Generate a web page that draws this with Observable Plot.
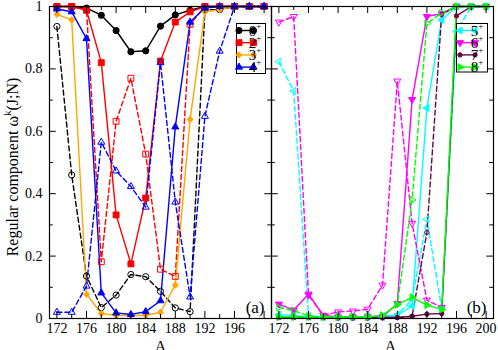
<!DOCTYPE html>
<html><head><meta charset="utf-8">
<script src="https://cdn.jsdelivr.net/npm/d3@7"></script>
<script src="https://cdn.jsdelivr.net/npm/@observablehq/plot@0.6"></script>
<style>
body{margin:0;background:#fff;}
#chart{width:498px;height:350px;}
#chart svg text{font-family:"Liberation Serif","Times New Roman",Times,"DejaVu Serif",serif;}
</style></head><body><div id="chart"></div>
<script>
// ---- data ----
const A = [172,174,176,178,180,182,184,186,188,190,192,194,196,198,200];
// panel (a)
const w0  = [1,1,0.995,0.972,0.923,0.855,0.858,0.937,0.973,0.988,1,1,1,1,1];
const w0d = [0.936,0.46,0.136,0.035,0.075,0.141,0.134,0.087,0.034,0.022,0.99,0.99,1,1,1];
const w2  = [1,1,0.988,0.82,0.332,0.175,0.386,0.825,0.95,0.983,1,1,1,1,1];
const w2d = [1,1,0.99,0.182,0.632,0.77,0.527,0.158,0.135,0.943,1,1,1,1,1];
const w3  = [0.975,0.957,0.078,0.016,0.01,0.01,0.01,0.02,0.107,0.638,0.983,0.99,1,1,1];
const w4  = [0.992,0.983,0.897,0.082,0.018,0.013,0.022,0.057,0.614,0.95,0.995,1,1,1,1];
const w4d = [0.02,0.02,0.104,0.565,0.473,0.423,0.357,0.82,0.373,0.069,0.648,0.857,1,1,1];
// panel (b)
const w5  = [0.012,0.01,0.005,0.004,0.004,0.004,0.004,0.005,0.01,0.04,0.675,0.957,1,1,1];
const w5d = [0.823,0.729,0.008,0.006,0.006,0.006,0.006,0.006,0.012,0.06,0.318,0.032,0.92,1,1];
const w6  = [0.046,0.027,0.078,0.01,0.005,0.005,0.005,0.005,0.048,0.702,0.968,0.977,1,1,1];
const w6d = [0.95,0.968,0.075,0.01,0.021,0.024,0.03,0.107,0.761,0.305,0.059,0.035,null,null,null];
const w7  = [0.003,0.003,0.003,0.003,0.003,0.003,0.003,0.003,0.003,0.007,0.014,0.016,0.97,1,1];
const w7d = [0.003,0.003,0.003,0.003,0.003,0.003,0.003,0.003,0.003,0.007,0.276,0.975,1,1,1];
const w8  = [0.005,0.005,0.005,0.005,0.005,0.005,0.005,0.01,0.045,0.068,0.043,0.029,1,1,1];
const w8d = [0.035,0.025,0.008,0.005,0.005,0.005,0.005,0.01,0.045,0.38,0.946,0.98,1,1,1];

const xTicksA = [172,176,180,184,188,192,196];
const xTicksB = [172,176,180,184,188,192,196,200];
const xMajor = [172,176,180,184,188,192,196,200];
const xMinor = [174,178,182,186,190,194,198];
const yTicks = [0,0.2,0.4,0.6,0.8,1];
const yMinor = [0.1,0.3,0.5,0.7,0.9];
const panels = ["a","b"];
const legendA = ["0","2","3","4"];
const legendB = ["5","6","7","8"];
const xTitle = "A";
const yTitle = ["Regular component ω","k","(J;N)"];

// ---- symbols ----
function poly(pts){ return {draw(ctx,size){ const r=Math.sqrt(size/Math.PI); pts.forEach(([x,y],k)=> k?ctx.lineTo(x*r,y*r):ctx.moveTo(x*r,y*r)); ctx.closePath(); }}; }
function tri(angle){ const R=1.35; return poly([0,1,2].map(k=>[R*Math.cos(angle+k*2*Math.PI/3), R*Math.sin(angle+k*2*Math.PI/3)])); }
const symCircle = {draw(ctx,size){ const r=Math.sqrt(size/Math.PI); ctx.moveTo(r,0); ctx.arc(0,0,r,0,2*Math.PI); }};
const symSquare = poly([[-0.95,-0.95],[0.95,-0.95],[0.95,0.95],[-0.95,0.95]]);
const symDiamond = poly([[0,-1.2],[1.1,0],[0,1.2],[-1.1,0]]);
const triUp = tri(-Math.PI/2), triDown = tri(Math.PI/2), triLeft = tri(Math.PI), triRight = tri(0);

const C = {black:"#000000", red:"#ff0000", orange:"#ffa500", blue:"#0000ff", cyan:"#00ffff", magenta:"#ff00ff", maroon:"#670748", green:"#00ff00"};

const series = [
  {panel:"a", v:w0,  color:C.black,  dashed:false, sym:symCircle, r:3.1},
  {panel:"a", v:w0d, color:C.black,  dashed:true,  sym:symCircle, r:3.1},
  {panel:"a", v:w2,  color:C.red,    dashed:false, sym:symSquare, r:3.1},
  {panel:"a", v:w2d, color:C.red,    dashed:true,  sym:symSquare, r:3.1},
  {panel:"a", v:w3,  color:C.orange, dashed:false, sym:symDiamond, r:2.7},
  {panel:"a", v:w4,  color:C.blue,   dashed:false, sym:triUp, r:3},
  {panel:"a", v:w4d, color:C.blue,   dashed:true,  sym:triUp, r:3},
  {panel:"b", v:w5,  color:C.cyan,   dashed:false, sym:triLeft, r:3},
  {panel:"b", v:w5d, color:C.cyan,   dashed:true,  sym:triLeft, r:3},
  {panel:"b", v:w6,  color:C.magenta,dashed:false, sym:triDown, r:3},
  {panel:"b", v:w6d, color:C.magenta,dashed:true,  sym:triDown, r:3},
  {panel:"b", v:w7,  color:C.maroon, dashed:false, sym:symCircle, r:2.2},
  {panel:"b", v:w7d, color:C.maroon, dashed:true,  sym:symCircle, r:2.2},
  {panel:"b", v:w8,  color:C.green,  dashed:false, sym:triRight, r:3},
  {panel:"b", v:w8d, color:C.green,  dashed:true,  sym:triRight, r:3}
];
const legendSeriesA = series.filter(s=>s.panel==="a" && !s.dashed);
const legendSeriesB = series.filter(s=>s.panel==="b" && !s.dashed);

// ---- layout ----
const W=498, H=350, mT=6, mB=32, mL=49, mR=4.5;
const frameH = H-mT-mB, facetW = (W-mL-mR)/2;
const font = "'Liberation Serif','Times New Roman',Times,'DejaVu Serif',serif";

const dataMarks = [];
for (const s of series) {
  const data = A.map((a,i)=>({A:a, v:s.v[i], panel:s.panel})).filter(d=>d.v!=null);
  dataMarks.push(Plot.line(data, {x:"A", y:"v", fx:"panel", stroke:s.color, strokeWidth:1.4, strokeDasharray: s.dashed ? "5,3" : undefined}));
}
for (const s of series) {
  const data = A.map((a,i)=>({A:a, v:s.v[i], panel:s.panel})).filter(d=>d.v!=null);
  dataMarks.push(Plot.dot(data, {x:"A", y:"v", fx:"panel", symbol:s.sym, r:s.r, fill: s.dashed ? "none" : s.color, stroke:s.color, strokeWidth:1}));
}
const xLabelRows = [
  ...xTicksA.map(t=>({panel:"a", A:t})),
  ...xTicksB.map(t=>({panel:"b", A:t}))
];

const tickLen = 7, minorLen = 4;
const plot = Plot.plot({
  width:W, height:H, marginTop:mT, marginBottom:mB, marginLeft:mL, marginRight:mR,
  style:{fontFamily:font, fontSize:"14px", background:"white", color:"black"},
  x:{domain:[171,201], axis:null},
  y:{domain:[0,1], axis:null},
  fx:{domain:panels, padding:0, axis:null},
  marks:[
    Plot.text(xLabelRows, {x:"A", fx:"panel", text:d=>String(d.A), frameAnchor:"bottom", lineAnchor:"top", dy:5, fontSize:14}),
    Plot.axisY({ticks:yTicks, tickSize:0, tickPadding:7, label:null, tickFormat:d=>String(d), fontSize:14}),
    ...dataMarks,
    Plot.tickX(xMajor, {x:d=>d, insetTop:frameH-tickLen, stroke:"black"}),
    Plot.tickX(xMajor, {x:d=>d, insetBottom:frameH-tickLen, stroke:"black"}),
    Plot.tickX(xMinor, {x:d=>d, insetTop:frameH-minorLen, stroke:"black"}),
    Plot.tickX(xMinor, {x:d=>d, insetBottom:frameH-minorLen, stroke:"black"}),
    Plot.tickY(yTicks, {y:d=>d, insetRight:facetW-tickLen, stroke:"black"}),
    Plot.tickY(yTicks, {y:d=>d, insetLeft:facetW-tickLen, stroke:"black"}),
    Plot.tickY(yMinor, {y:d=>d, insetRight:facetW-minorLen, stroke:"black"}),
    Plot.tickY(yMinor, {y:d=>d, insetLeft:facetW-minorLen, stroke:"black"}),
    Plot.frame({stroke:"black", strokeWidth:1.2}),
    Plot.text(panels, {fx:d=>d, text:d=>`(${d})`, frameAnchor:"bottom-right", textAnchor:"end", lineAnchor:"bottom", dx:-7, dy:-6, fontSize:17}),
    Plot.text(panels.filter(p=>p==="a"), {fx:d=>d, text:()=>xTitle, frameAnchor:"bottom", lineAnchor:"top", dy:22, fontSize:16}),
    Plot.text(panels.filter(p=>p==="b"), {fx:d=>d, text:()=>xTitle, frameAnchor:"bottom", lineAnchor:"top", dy:22, dx:8, fontSize:16})
  ]
});
document.getElementById("chart").appendChild(plot);

// ---- legends & y title ----
const svg = d3.select(plot);
function legend(x0, y0, w, h, items, labels, m1, m2, lx){
  const g = svg.append("g");
  g.append("rect").attr("x",x0).attr("y",y0).attr("width",w).attr("height",h).attr("fill","white").attr("stroke","black").attr("stroke-width",1);
  items.forEach((s,i)=>{
    const y = y0+7+i*12.2;
    g.append("line").attr("x1",m1).attr("x2",m2).attr("y1",y).attr("y2",y).attr("stroke",s.color).attr("stroke-width",1.4);
    [m1,m2].forEach(mx=> g.append("path").attr("d", d3.symbol(s.sym, Math.PI*s.r*s.r)()).attr("transform",`translate(${mx},${y})`).attr("fill",s.color).attr("stroke",s.color));
    const t = g.append("text").attr("x",lx).attr("y",y+5).attr("font-size",15).text(labels[i]);
    t.append("tspan").attr("dy",-7).attr("font-size",9).text("+");
  });
}
legend(236.5, 23.5, 29, 50, legendSeriesA, legendA, 239, 253.5, 255);
legend(456.5, 23.5, 31, 48.5, legendSeriesB, legendB, 460, 475, 477);

const yt = svg.append("text").attr("transform","translate(18,167) rotate(-90)").attr("text-anchor","middle").attr("font-size",16);
yt.append("tspan").text(yTitle[0]);
yt.append("tspan").attr("dy",-7).attr("font-size",11).text(yTitle[1]);
yt.append("tspan").attr("dy",7).text(yTitle[2]);
svg.selectAll("text").attr("font-family", font);
</script></body></html>
